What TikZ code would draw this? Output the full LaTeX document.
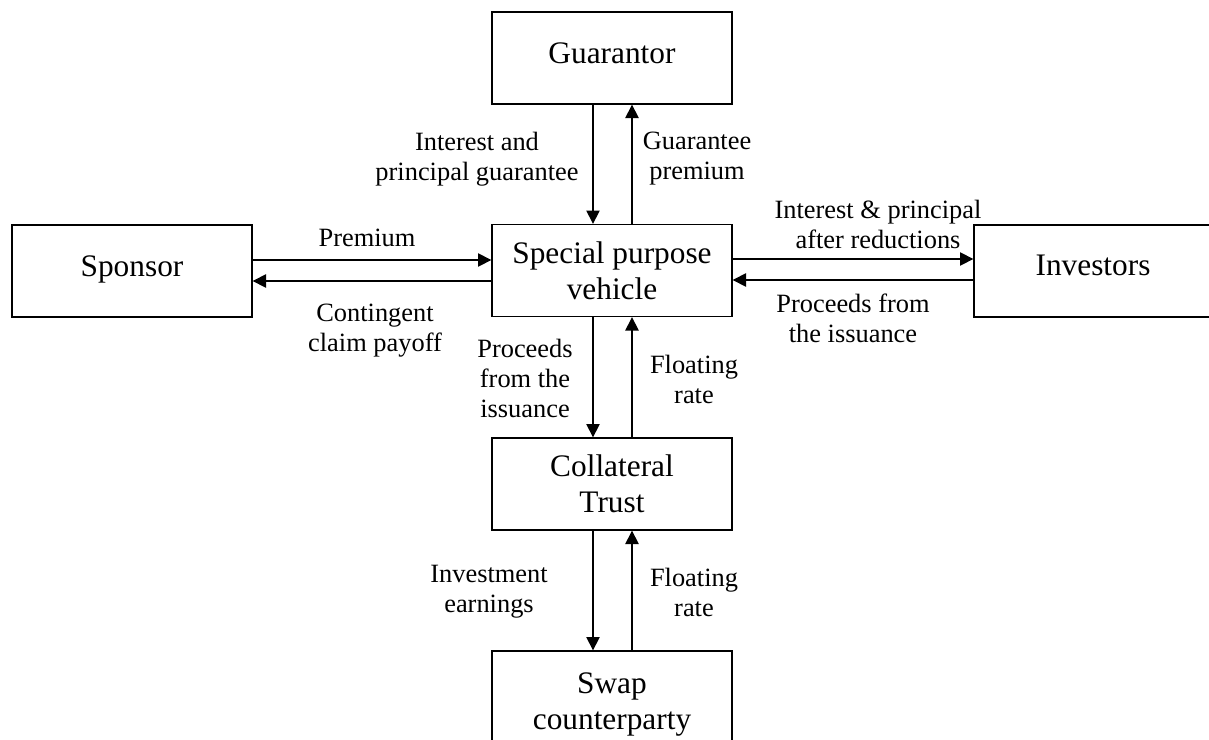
\documentclass[tikz,border=0pt]{standalone}
\usepackage{fontspec}
\setmainfont{Liberation Serif}
\usetikzlibrary{arrows.meta,calc}

\tikzset{every picture/.style={line width=1pt}}
\tikzset{
  party/.style={draw, minimum width=180pt, minimum height=69pt, inner sep=0pt, align=center,
    font=\fontsize{23.5}{27}\selectfont},
  oneline/.style={text depth=8pt},
  flowlabel/.style={inner sep=0pt, align=center, font=\fontsize{19.8}{22.5}\selectfont},
  flow/.style={-{Triangle[length=10pt,width=10pt]}}
}

\begin{document}
\begin{tikzpicture}[x=0.75pt,y=0.75pt,yscale=-1,xscale=1]
\useasboundingbox[fill=white] (0,0) rectangle (1209,739);
\clip (0,0) rectangle (1209,739);

% Boxes
\node [party, oneline] (guar) at (612,58) {Guarantor};
\node [party, oneline] (spon) at (132,271) {Sponsor};
\node [party] (spv) at (612,270.5) {Special purpose\\vehicle};
\node [party, oneline, minimum width=178.5pt] (inv) at (1093,271) {Investors};
\node [party] (coll) at (612,484) {Collateral\\Trust};
\node [party, minimum height=79.5pt] (swap) at (612,704) {Swap\\counterparty};

% Guarantor <-> SPV
\draw [flow] ($(guar.south)+(-19,0)$) -- ($(spv.north)+(-19,0)$);
\draw [flow] ($(spv.north)+(20,0)$) -- ($(guar.south)+(20,0)$);
% Sponsor <-> SPV
\draw [flow] ($(spon.east)+(0,-11)$) -- ($(spv.west)+(0,-10.5)$);
\draw [flow] ($(spv.west)+(0,10.5)$) -- ($(spon.east)+(0,10)$);
% SPV <-> Investors
\draw [flow] ($(spv.east)+(0,-11.5)$) -- ($(inv.west)+(0,-12)$);
\draw [flow] ($(inv.west)+(0,9)$) -- ($(spv.east)+(0,9.5)$);
% SPV <-> Collateral trust
\draw [flow] ($(spv.south)+(-19,0)$) -- ($(coll.north)+(-19,0)$);
\draw [flow] ($(coll.north)+(20,0)$) -- ($(spv.south)+(20,0)$);
% Collateral trust <-> Swap
\draw [flow] ($(coll.south)+(-19,0)$) -- ($(swap.north)+(-19,0)$);
\draw [flow] ($(swap.north)+(20,0)$) -- ($(coll.south)+(20,0)$);

% Text Nodes
\node [flowlabel] (lguar) at (477,159) {Interest and\\principal guarantee};
\node [flowlabel] (lprem) at (697,159) {Guarantee\\premium};
\node [flowlabel] (lpremium) at (367,238) {Premium};
\node [flowlabel] (lclaim) at (375,331) {Contingent\\claim payoff};
\node [flowlabel] (lint) at (878,224) {Interest \& principal\\after reductions};
\node [flowlabel] (lproc) at (853,318) {Proceeds from\\the issuance};
\node [flowlabel] (lproc2) at (525,378) {Proceeds\\from the\\issuance};
\node [flowlabel] (lfloat) at (694,379) {Floating\\rate};
\node [flowlabel] (learn) at (489,592) {Investment\\earnings};
\node [flowlabel] (lfloat2) at (694,592) {Floating\\rate};

\end{tikzpicture}
\end{document}
